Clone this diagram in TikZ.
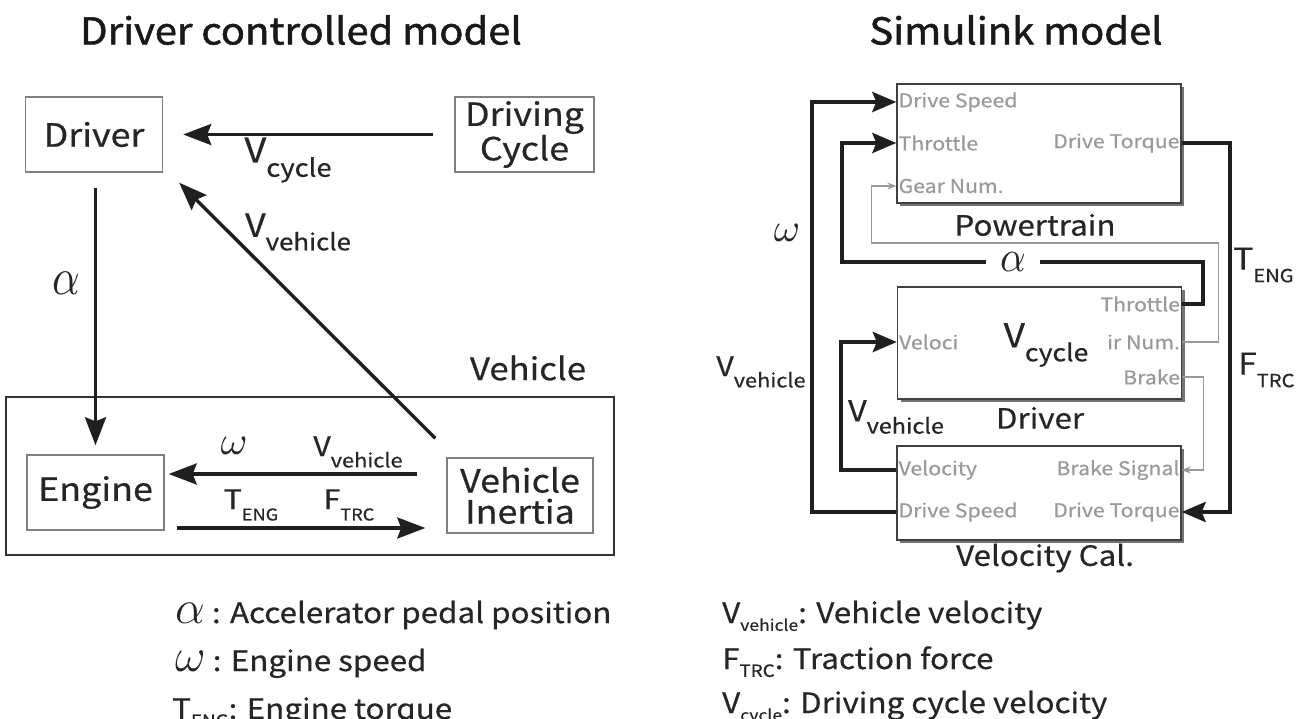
\documentclass[tikz,border=0pt]{standalone}
\usepackage{fontspec}
\setmainfont{Noto Sans CJK JP}[FakeStretch=1.12, FakeBold=0.5]
\newfontfamily\headfont{Noto Sans CJK JP}[FakeStretch=1.08, FakeBold=1.4]
\usepackage{graphicx}
\usetikzlibrary{arrows.meta,calc,shadows}

% subscripts of the signal labels
\newcommand\sbs[2][0.72]{\raisebox{-0.42em}{\scalebox{#1}{#2}}}
% subscripts in the legend
\newcommand\lsb[2][0.56]{\raisebox{-0.28em}{\scalebox{#1}{#2}}}

\tikzset{
  txt/.style={text=black!85, inner sep=0pt},
  lbox/.style={draw=black!50, line width=1.4pt, fill=white, text=black!85,
    align=center, inner sep=0pt, font=\fontsize{32}{31}\selectfont},
  arr/.style={line width=3.4pt, draw=black!88,
    -{Stealth[length=28pt,width=21pt,inset=4pt]}},
  sblock/.style={draw=black!75, line width=1.3pt, fill=white, inner sep=0pt,
    minimum width=284pt,
    drop shadow={shadow xshift=3pt, shadow yshift=-3pt, fill=black!55, opacity=1}},
  port/.style={text=black!40, inner sep=2pt, font=\fontsize{19}{19}\selectfont},
  thk/.style={line width=4pt, draw=black!88},
  thn/.style={line width=1.2pt, draw=black!40},
  bigarr/.style={-{Stealth[length=24pt,width=20pt,inset=4pt]}},
  smallarr/.style={-{Stealth[length=9pt,width=7pt]}},
  blabel/.style={text=black!85, inner sep=0pt, font=\fontsize{28}{28}\selectfont},
  ttl/.style={text=black!90, inner sep=0pt, font=\headfont\fontsize{37}{37}\selectfont},
  legend/.style={text=black!85, inner sep=0pt, anchor=base west,
    font=\fontsize{28}{28}\selectfont},
}

\begin{document}
\begin{tikzpicture}[x=1pt,y=-1pt]
\useasboundingbox[fill=white] (0,0) rectangle (1303,719);

% ---------------- Driver controlled model ----------------
\node[ttl] (t1) at (301,30) {Driver controlled model};

\node[draw=black!80, line width=2pt, minimum width=608pt, minimum height=158pt,
      inner sep=0pt] (veh) at (310,476) {};
\node[blabel, font=\fontsize{31}{31}\selectfont] (vehl) at (528,368) {Vehicle};

\node[lbox, minimum width=137pt, minimum height=75pt] (drv) at (94,134.5) {Driver};
\node[lbox, minimum width=139pt, minimum height=75pt] (dc) at (524.5,134.5) {Driving\\Cycle};
\node[lbox, minimum width=137pt, minimum height=75pt] (eng) at (95.5,492.5) {Engine};
\node[lbox, minimum width=146pt, minimum height=75pt] (inr) at (520,495.5) {Vehicle\\Inertia};

\draw[arr, shorten <=21pt, shorten >=20pt] (dc) -- (drv);
\draw[arr, shorten <=15pt, shorten >=9pt] (drv.south -| eng.north) -- (eng.north);
\draw[arr] ($(inr.north west)+(-11,-19)$) -- ($(drv.south east)+(16,10)$);
\draw[arr] ($(inr.west)+(-29,-21.5)$) -- ($(eng.east)+(4,-18.5)$);
\draw[arr] ($(eng.east)+(12,35.5)$) -- ($(inr.west)+(-21,32.5)$);

\node[txt, font=\fontsize{34}{34}\selectfont] (lvc) at (288,160) {V\sbs{cycle}};
\node[txt, font=\fontsize{32}{32}\selectfont] (lvv) at (298,232) {V\sbs{vehicle}};
\node[txt] (lal) at (66,283) {\scalebox{4.3}[5.2]{$\alpha$}};
\node[txt] (lom) at (234,446) {\scalebox{4.1}[4]{$\omega$}};
\node[txt, font=\fontsize{27}{27}\selectfont] (lvv2) at (358,452) {V\sbs{vehicle}};
\node[txt, font=\fontsize{27}{27}\selectfont] (lte) at (251,505) {T\sbs[0.6]{ENG}};
\node[txt, font=\fontsize{27}{27}\selectfont] (lft) at (349,505) {F\sbs[0.6]{TRC}};

% ---------------- Simulink model ----------------
\node[ttl] (t2) at (1016,30) {Simulink model};

\node[sblock, minimum height=119pt] (pt) at (1039,143.5) {};
\node[sblock, minimum height=112pt] (dv) at (1039.5,343) {};
\node[sblock, minimum height=94pt] (vc) at (1039,493) {};

% port names
\node[port, anchor=west] (pt-ds) at (pt.west |- 0,102) {Drive Speed};
\node[port, anchor=west] (pt-th) at (pt.west |- 0,143) {Throttle};
\node[port, anchor=west] (pt-gn) at (pt.west |- 0,186) {Gear Num.};
\node[port, anchor=east] (pt-dt) at (pt.east |- 0,143) {Drive Torque};

\node[port, anchor=east] (dv-th) at (dv.east |- 0,304) {Throttle};
\node[port, anchor=east] (dv-gn) at (dv.east |- 0,342) {ir Num.};
\node[port, anchor=east] (dv-br) at (dv.east |- 0,377) {Brake};
\node[port, anchor=west] (dv-ve) at (dv.west |- 0,342) {Veloci};

\node[port, anchor=west] (vc-ve) at (vc.west |- 0,470) {Velocity};
\node[port, anchor=west] (vc-ds) at (vc.west |- 0,512) {Drive Speed};
\node[port, anchor=east] (vc-bs) at (vc.east |- 0,470) {Brake Signal};
\node[port, anchor=east] (vc-dt) at (vc.east |- 0,512) {Drive Torque};

% block names
\node[blabel] (ptl) at (1035,225) {Powertrain};
\node[blabel] (dvl) at (1040,418) {Driver};
\node[blabel] (vcl) at (1045,558) {Velocity Cal.};
\node[txt, font=\fontsize{33}{33}\selectfont] (dvc) at (1046,345) {V\sbs{cycle}};

% signal lines
\draw[thn, smallarr] (dv-gn -| dv.east) -- ++(36,0) -- ++(0,-99) -- ++(-347,0)
      |- (pt-gn -| pt.west);
\draw[thn, smallarr] (dv-br -| dv.east) -- ++(21,0) |- (vc-bs -| vc.east);

\draw[thk, bigarr] (vc-ds -| vc.west) -- ++(-84,0) |- (pt-ds -| pt.west);
\draw[thk, bigarr] (dv-th -| dv.east) -- ++(21,0) -- ++(0,-42) -- ++(-361,0)
      |- (pt-th -| pt.west);
\draw[thk, bigarr] (pt-dt -| pt.east) -- ++(48,0) |- (vc-dt -| vc.east);
\draw[thk, bigarr] (vc-ve -| vc.west) -- ++(-55,0) |- (dv-ve -| dv.west);

\node[txt, fill=white, inner xsep=14pt, inner ysep=2pt] (sal) at (1013,262)
      {\scalebox{4}[4.4]{$\alpha$}};
\node[txt] (som) at (787,233) {\scalebox{4}{$\omega$}};
\node[txt, font=\fontsize{27}{27}\selectfont] (svv) at (761,372) {V\sbs{vehicle}};
\node[txt, font=\fontsize{29}{29}\selectfont] (svv2) at (896,417) {V\sbs{vehicle}};
\node[txt, font=\fontsize{30}{30}\selectfont, anchor=west] (ste) at (1233,265) {T\sbs[0.6]{ENG}};
\node[txt, font=\fontsize{30}{30}\selectfont, anchor=west] (sft) at (1238,370) {F\sbs[0.6]{TRC}};

% ---------------- legend ----------------
\node[legend] (g1) at (175,623) {\scalebox{1.9}{$\alpha$} : Accelerator pedal position};
\node[legend] (g2) at (175,671) {\scalebox{1.9}{$\omega$} : Engine speed};
\node[legend] (g3) at (172,719) {T\lsb[0.6]{ENG}: Engine torque};
\node[legend] (g4) at (722,623) {V\lsb{vehicle}: Vehicle velocity};
\node[legend] (g5) at (722,669) {F\lsb[0.6]{TRC}: Traction force};
\node[legend] (g6) at (722,713) {V\lsb{cycle}: Driving cycle velocity};
\end{tikzpicture}
\end{document}
